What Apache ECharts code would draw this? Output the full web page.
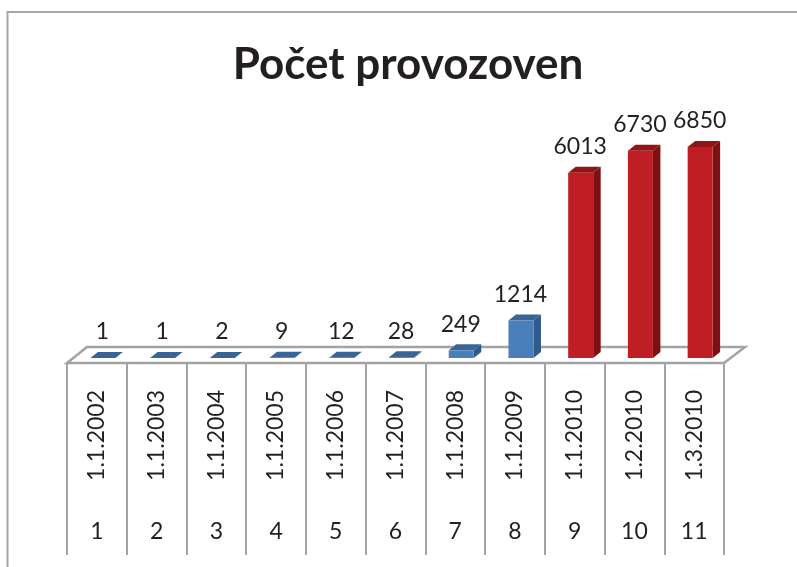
<!DOCTYPE html>
<html>
<head>
<meta charset="utf-8">
<style>
html, body { margin: 0; padding: 0; background: #fff; }
#main { width: 797px; height: 567px; }
</style>
<script src="https://cdn.jsdelivr.net/npm/echarts@6/dist/echarts.min.js"></script>
</head>
<body>
<div id="main"></div>
<script>
const dates = ['1.1.2002', '1.1.2003', '1.1.2004', '1.1.2005', '1.1.2006', '1.1.2007', '1.1.2008', '1.1.2009', '1.1.2010', '1.2.2010', '1.3.2010']
const indexes = ['1', '2', '3', '4', '5', '6', '7', '8', '9', '10', '11']
const values = [1, 1, 2, 9, 12, 28, 249, 1214, 6013, 6730, 6850]
const firstRedIndex = 8

const fontFamily = 'Lato, "Open Sans", sans-serif'
const lineColor = '#a3a3a6'
const textColor = '#231f20'
const blue = { front: '#4a7ebb', top: '#386496', side: '#2f5a8a' }
const red = { front: '#be1e24', top: '#8f1518', side: '#7d1013' }

const left = 67
const width = 657
const baseY = 358
const floorY = 363
const depthX = 7.5
const depthY = 6

function renderBar(params, api) {
	const i = api.value(0)
	const val = api.value(1)
	const p = api.coord([i, val])
	const base = api.coord([i, 0])
	const w = 25
	const x0 = p[0] - w / 2 + 6
	const x1 = x0 + w
	const yTop = p[1]
	const yBase = base[1]
	const c = i >= firstRedIndex ? red : blue
	return {
		type: 'group',
		children: [
			{ type: 'polygon', shape: { points: [[x1, yTop], [x1 + depthX, yTop - depthY], [x1 + depthX, yBase - depthY], [x1, yBase]] }, style: { fill: c.side } },
			{ type: 'polygon', shape: { points: [[x0, yTop], [x0 + depthX, yTop - depthY], [x1 + depthX, yTop - depthY], [x1, yTop]] }, style: { fill: c.top } },
			{ type: 'rect', shape: { x: x0, y: yTop, width: w, height: yBase - yTop }, style: { fill: c.front } },
			{
				type: 'text',
				style: {
					x: x0 + w / 2 - 0.5,
					y: yTop - 26,
					text: String(val),
					fill: textColor,
					font: '23px ' + fontFamily,
					align: 'center',
					verticalAlign: 'middle',
				},
			},
		],
	}
}

const chart = echarts.init(document.getElementById('main'), null, { renderer: 'canvas' })
chart.setOption({
	animation: false,
	backgroundColor: '#fff',
	title: {
		text: 'Počet provozoven',
		left: 403,
		top: 38,
		textAlign: 'center',
		textStyle: { fontFamily: fontFamily, fontSize: 44, fontWeight: 'bold', color: textColor },
	},
	graphic: [
		{
			type: 'polyline',
			silent: true,
			shape: { points: [[7.5, 567], [7.5, 12], [797, 12]] },
			style: { fill: 'none', stroke: '#a6a6a6', lineWidth: 2 },
		},
		{
			type: 'polygon',
			silent: true,
			z: -1,
			shape: { points: [[left, floorY], [left + 20, floorY - 16], [left + width + 21, floorY - 16], [left + width, floorY]] },
			style: { fill: '#fff', stroke: lineColor, lineWidth: 2.5 },
		},
	],
	grid: [
		{ left: left, width: width, top: 147, height: baseY - 147 },
		{ left: left, width: width, top: floorY, height: 192 },
	],
	xAxis: [
		{ gridIndex: 0, type: 'category', data: dates, show: false },
		{
			gridIndex: 1,
			type: 'category',
			position: 'top',
			data: dates,
			axisLine: { show: false },
			axisTick: { show: false },
			splitLine: { show: true, interval: 0, lineStyle: { color: lineColor, width: 2 } },
			axisLabel: { inside: true, interval: 0, rotate: 90, margin: 27, padding: [2, 0, 0, 0], fontSize: 23, fontFamily: fontFamily, color: textColor },
		},
		{
			gridIndex: 1,
			type: 'category',
			position: 'bottom',
			data: indexes,
			axisLine: { show: false },
			axisTick: { show: false },
			axisLabel: { inside: true, interval: 0, margin: 12, fontSize: 23, fontFamily: fontFamily, color: textColor },
		},
	],
	yAxis: [
		{ gridIndex: 0, type: 'value', min: 0, max: 6850, show: false },
		{ gridIndex: 1, type: 'value', show: false },
	],
	series: [
		{
			type: 'custom',
			xAxisIndex: 0,
			yAxisIndex: 0,
			data: values.map((v, i) => [i, v]),
			encode: { x: 0, y: 1 },
			clip: false,
			renderItem: renderBar,
		},
	],
})
</script>
</body>
</html>
